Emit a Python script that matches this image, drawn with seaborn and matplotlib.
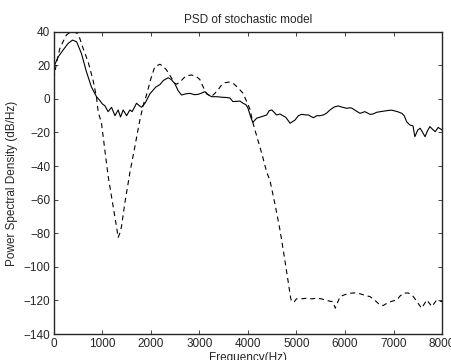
import matplotlib
matplotlib.use("Agg")
import matplotlib.pyplot as plt
import seaborn as sns
import pandas as pd

# Solid curve (estimated PSD)
freq_solid = [0, 90, 190, 295, 385, 470, 570, 674, 777, 880, 950, 1000, 1050, 1120,
              1190, 1260, 1326, 1375, 1430, 1500, 1567, 1615, 1705, 1760, 1808, 1880,
              1980, 2100, 2186, 2260, 2357, 2420, 2495, 2560, 2632, 2720, 2804, 2900,
              2976, 3050, 3113, 3180, 3251, 3350, 3457, 3560, 3630, 3690, 3760, 3835,
              3900, 3960, 4000, 4060, 4100, 4180, 4280, 4385, 4440, 4490, 4540, 4590,
              4660, 4720, 4780, 4870, 4970, 5040, 5105, 5180, 5250, 5300, 5350, 5420,
              5485, 5560, 5620, 5690, 5780, 5860, 5950, 6035, 6100, 6140, 6220, 6310,
              6410, 6515, 6580, 6650, 6750, 6890, 6960, 7030, 7100, 7170, 7220, 7270,
              7340, 7400, 7440, 7500, 7550, 7600, 7650, 7700, 7750, 7800, 7860, 7920, 8000]
psd_solid = [19, 25, 29, 33, 35, 34, 27, 16, 7, 1.3, -1, -3, -4, -7.6,
             -5, -10, -6.6, -10.8, -6.6, -10, -6.6, -7.6, -2.6, -4, -5, -2.6,
             3, 7, 8.5, 11, 12.6, 11.5, 9, 5, 2.3, 3, 3.3, 2.5,
             2.7, 3.5, 4.3, 2.5, 1.3, 1.3, 1.0, 0.8, 0.5, -1.6, -1.5, -1.3,
             -2.6, -3.5, -5.4, -11, -14, -11.5, -10.6, -9.6, -7, -6.6, -8, -9.6,
             -9, -10, -11, -14.5, -12.6, -10, -9.2, -9.5, -9.6, -10.5, -11.2, -10,
             -10, -9.5, -8.5, -6.6, -4.8, -4.2, -5, -5.6, -5.3, -5.5, -7, -8.6,
             -7.6, -9.2, -9, -8, -7.5, -6.9, -6.7, -7.2, -7.8, -8.6, -10, -13.6,
             -15.6, -16, -22.5, -18.5, -17.5, -20, -22.5, -19, -16.5, -18, -19.5, -17, -18.5]

# Dashed curve (model PSD)
freq_dashed = [0, 60, 124, 190, 260, 330, 420, 480, 536, 605, 708, 810, 880, 914,
               983, 1050, 1120, 1223, 1292, 1326, 1360, 1395, 1464, 1567, 1670, 1773,
               1850, 1910, 2000, 2082, 2186, 2250, 2323, 2426, 2490, 2530, 2600, 2680,
               2735, 2838, 2930, 3010, 3080, 3148, 3250, 3320, 3400, 3457, 3525, 3600,
               3696, 3800, 3900, 3980, 4040, 4100, 4200, 4300, 4390, 4450, 4560, 4660,
               4750, 4825, 4880, 4900, 4950, 5000, 5100, 5210, 5310, 5415, 5510, 5590,
               5700, 5750, 5800, 5850, 5900, 6000, 6100, 6200, 6310, 6420, 6515, 6620,
               6720, 6790, 6860, 6960, 7065, 7130, 7200, 7300, 7375, 7430, 7480, 7580,
               7685, 7790, 7890, 8000]
psd_dashed = [12, 22, 30, 34, 38, 39.5, 39.8, 39, 36, 30, 22, 11, 1, -7.6,
              -14.5, -30, -46, -64, -76, -82.5, -80, -76, -62, -44, -28.5, -12.6,
              -3, 2.3, 12, 19.2, 20.6, 19.5, 17.2, 12.4, 9.5, 8.7, 10, 12.5,
              13.8, 14.2, 13.5, 11.5, 7, 3, 1.5, 3.3, 6, 8.3, 9.6, 10,
              9.3, 6.5, 3.3, -2, -6, -14, -24, -34, -44, -48, -63, -78,
              -94, -108, -118.5, -120.7, -121, -119, -119, -118.7, -119, -118.7, -119, -119.7,
              -120.5, -120.7, -124.6, -121, -117.7, -116.5, -115.7, -115.5, -116, -117, -117.7, -120,
              -122.7, -123, -121.7, -120.5, -119.7, -117.5, -115.7, -115.5, -116.6, -118.5, -120.7, -124.6,
              -119.7, -123.6, -119.7, -120.7]

solid = pd.DataFrame({"Frequency": freq_solid, "PSD": psd_solid})
dashed = pd.DataFrame({"Frequency": freq_dashed, "PSD": psd_dashed})

sns.set_style("ticks")
plt.rcParams["font.family"] = ["Liberation Sans", "DejaVu Sans"]
plt.rcParams["font.size"] = 8.5
plt.rcParams["xtick.direction"] = "in"
plt.rcParams["ytick.direction"] = "in"

fig = plt.figure(figsize=(4.52, 3.6), dpi=100)
ax = fig.add_axes([0.119, 0.072, 0.859, 0.84])

sns.lineplot(data=solid, x="Frequency", y="PSD", ax=ax, color="black", linewidth=0.8)
sns.lineplot(data=dashed, x="Frequency", y="PSD", ax=ax, color="black", linewidth=0.8,
             linestyle=(0, (4.5, 3.5)))

ax.set_xlim(0, 8000)
ax.set_ylim(-140, 40)
ax.set_xticks(range(0, 8001, 1000))
ax.set_yticks(range(-140, 41, 20))
ax.tick_params(top=True, right=True, length=3, width=0.6, pad=2.5, labelsize=8.5)
for s in ax.spines.values():
    s.set_visible(True)
    s.set_linewidth(1.0)

ax.set_title("PSD of stochastic model", fontsize=8.5)
ax.set_xlabel("Frequency(Hz)", fontsize=8.5, labelpad=2)
ax.set_ylabel("Power Spectral Density (dB/Hz)", fontsize=8.5, labelpad=4)

fig.savefig("out.png", dpi=100)
